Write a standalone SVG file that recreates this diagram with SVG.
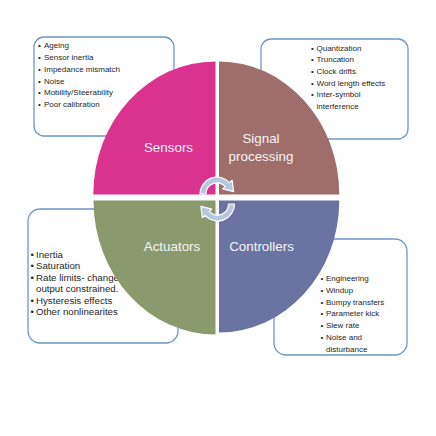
<svg xmlns="http://www.w3.org/2000/svg" width="436" height="436" viewBox="0 0 436 436">
<style>
.box{fill:#ffffff;stroke:#6f97c9;stroke-width:1.3}
.note{font-family:"Liberation Sans",Arial,sans-serif;font-size:8px;fill:#262626}
.note2{font-family:"Liberation Sans",Arial,sans-serif;font-size:9.7px;fill:#262626}
.lbl{font-family:"Liberation Sans",Arial,sans-serif;font-size:13.4px;fill:#f7f4f7;text-anchor:middle}
.arr{fill:#b6c8df;stroke:#ffffff;stroke-width:1.2;stroke-linejoin:round}
</style>
<rect width="436" height="436" fill="#ffffff"/>

<g id="sensors-notes">
<rect class="box" x="34" y="37" width="140" height="99" rx="10"/>
<g class="note">
<text x="38" y="48.3">•</text><text x="44" y="48.3">Ageing</text>
<text x="38" y="60">•</text><text x="44" y="60">Sensor inertia</text>
<text x="38" y="71.8">•</text><text x="44" y="71.8">Impedance mismatch</text>
<text x="38" y="83.5">•</text><text x="44" y="83.5">Noise</text>
<text x="38" y="95.3">•</text><text x="44" y="95.3">Mobility/Steerability</text>
<text x="38" y="107.3">•</text><text x="44" y="107.3">Poor calibration</text>
</g>
</g>

<g id="signal-notes">
<rect class="box" x="261" y="39" width="147" height="100" rx="10"/>
<g class="note">
<text x="311" y="50.7">•</text><text x="316.5" y="50.7">Quantization</text>
<text x="311" y="62.3">•</text><text x="316.5" y="62.3">Truncation</text>
<text x="311" y="74">•</text><text x="316.5" y="74">Clock drifts</text>
<text x="311" y="85.7">•</text><text x="316.5" y="85.7">Word length effects</text>
<text x="311" y="97.3">•</text><text x="316.5" y="97.3">Inter-symbol</text>
<text x="316.5" y="109">interference</text>
</g>
</g>

<g id="actuators-notes">
<rect class="box" x="28" y="209" width="150" height="134" rx="12"/>
<g class="note2">
<text x="30.5" y="257.7">•</text><text x="36" y="257.7">Inertia</text>
<text x="30.5" y="269.2">•</text><text x="36" y="269.2">Saturation</text>
<text x="30.5" y="280.7">•</text><text x="36" y="280.7">Rate limits- change</text>
<text x="36" y="292">output constrained.</text>
<text x="30.5" y="303.5">•</text><text x="36" y="303.5">Hysteresis effects</text>
<text x="30.5" y="315">•</text><text x="36" y="315">Other nonlinearites</text>
</g>
</g>

<g id="controllers-notes">
<rect class="box" x="274" y="239" width="133" height="116" rx="12"/>
<g class="note">
<text x="320.5" y="281">•</text><text x="326" y="281">Engineering</text>
<text x="320.5" y="292.7">•</text><text x="326" y="292.7">Windup</text>
<text x="320.5" y="304.5">•</text><text x="326" y="304.5">Bumpy transfers</text>
<text x="320.5" y="316.3">•</text><text x="326" y="316.3">Parameter kick</text>
<text x="320.5" y="328">•</text><text x="326" y="328">Slew rate</text>
<text x="320.5" y="339.8">•</text><text x="326" y="339.8">Noise and</text>
<text x="326" y="351.5">disturbance</text>
</g>
</g>

<g id="sensors">
<path d="M215.5 194.5 L93.3 194.5 A122.2 133 0 0 1 215.5 61.5 Z" fill="#d9328f"/>
<text class="lbl" x="168.5" y="152">Sensors</text>
</g>
<g id="signal-processing">
<path d="M219 194.5 L219 61.5 A120.3 133 0 0 1 339.3 194.5 Z" fill="#9f6e6b"/>
<text class="lbl" x="261" y="143">Signal</text>
<text class="lbl" x="261" y="161">processing</text>
</g>
<g id="actuators">
<path d="M215.5 200.5 L93.5 200.5 A122 134 0 0 0 215.5 334.5 Z" fill="#8b9a6c"/>
<text class="lbl" x="172" y="251">Actuators</text>
</g>
<g id="controllers">
<path d="M219 200.5 L339.3 200.5 A120.3 132 0 0 1 219 332.5 Z" fill="#6b73a3"/>
<text class="lbl" x="261.5" y="251">Controllers</text>
</g>

<g id="connectors">
<path class="arr" d="M200 194 A17 17 0 0 1 229.6 182.6 L232.2 180.3 L233.6 191.6 L222.6 188.9 L225.2 186.6 A11 11 0 0 0 206 194 Z"/>
<path class="arr" d="M234.5 204 A17 17 0 0 1 204.9 215.4 L202.3 217.7 L200.9 206.4 L211.9 209.1 L209.3 211.4 A11 11 0 0 0 228.5 204 Z"/>
</g>
</svg>
